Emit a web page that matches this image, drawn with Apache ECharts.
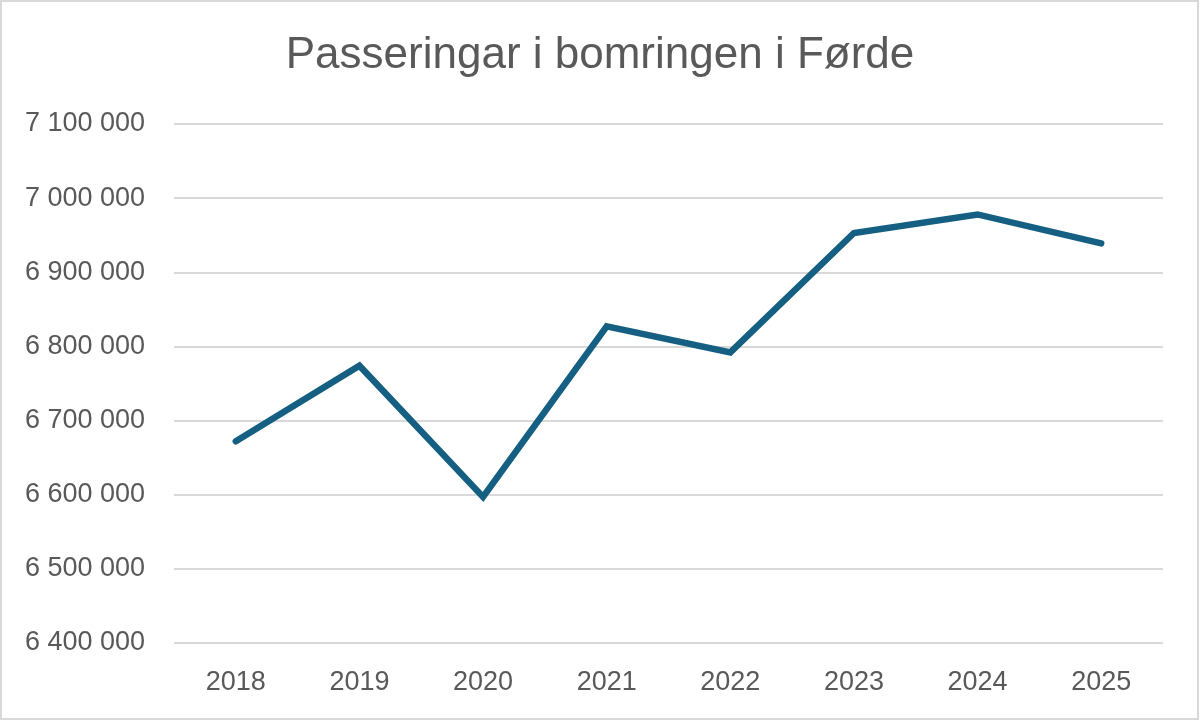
<!DOCTYPE html>
<html>
<head>
<meta charset="utf-8">
<script src="https://cdn.jsdelivr.net/npm/echarts@6/dist/echarts.min.js"></script>
<style>
html,body{margin:0;padding:0;background:#fff;}
#frame{position:absolute;left:0;top:0;width:1195px;height:716px;border:2px solid #d9d9d9;background:#fff;}
#chart{position:absolute;left:0;top:0;width:1200px;height:721px;}
</style>
</head>
<body>
<div id="frame"></div>
<div id="chart"></div>
<script>
const title = 'Passeringar i bomringen i Førde';
const years = ['2018','2019','2020','2021','2022','2023','2024','2025'];
const passages = [6672000, 6774000, 6597000, 6827000, 6792000, 6953000, 6978000, 6939000];
const yMin = 6400000, yMax = 7100000, yStep = 100000;

function fmt(v){
  return String(Math.round(v)).replace(/\B(?=(\d{3})+(?!\d))/g, ' ');
}

const chart = echarts.init(document.getElementById('chart'), null, {renderer:'canvas'});
chart.setOption({
  backgroundColor: 'transparent',
  animation: false,
  title: {
    text: title,
    left: 'center',
    top: 29,
    textStyle: {fontFamily: 'Liberation Sans, Arial, sans-serif', fontSize: 44, fontWeight: 'normal', color: '#595959'}
  },
  grid: {left: 174, right: 37, top: 124, bottom: 78, containLabel: false},
  xAxis: {
    type: 'category',
    data: years,
    boundaryGap: true,
    axisLine: {show: false},
    axisTick: {show: false},
    axisLabel: {fontFamily: 'Liberation Sans, Arial, sans-serif', fontSize: 27, color: '#595959', margin: 26}
  },
  yAxis: {
    type: 'value',
    min: yMin, max: yMax, interval: yStep,
    axisLine: {show: false},
    axisTick: {show: false},
    splitLine: {show: true, lineStyle: {color: '#d9d9d9', width: 2}},
    axisLabel: {fontFamily: 'Liberation Sans, Arial, sans-serif', fontSize: 27, color: '#595959', margin: 29, formatter: fmt}
  },
  series: [{
    type: 'line',
    data: passages,
    symbol: 'none',
    lineStyle: {color: '#156082', width: 6.5, cap: 'round', join: 'miter'},
    itemStyle: {color: '#156082'}
  }]
});
</script>
</body>
</html>
